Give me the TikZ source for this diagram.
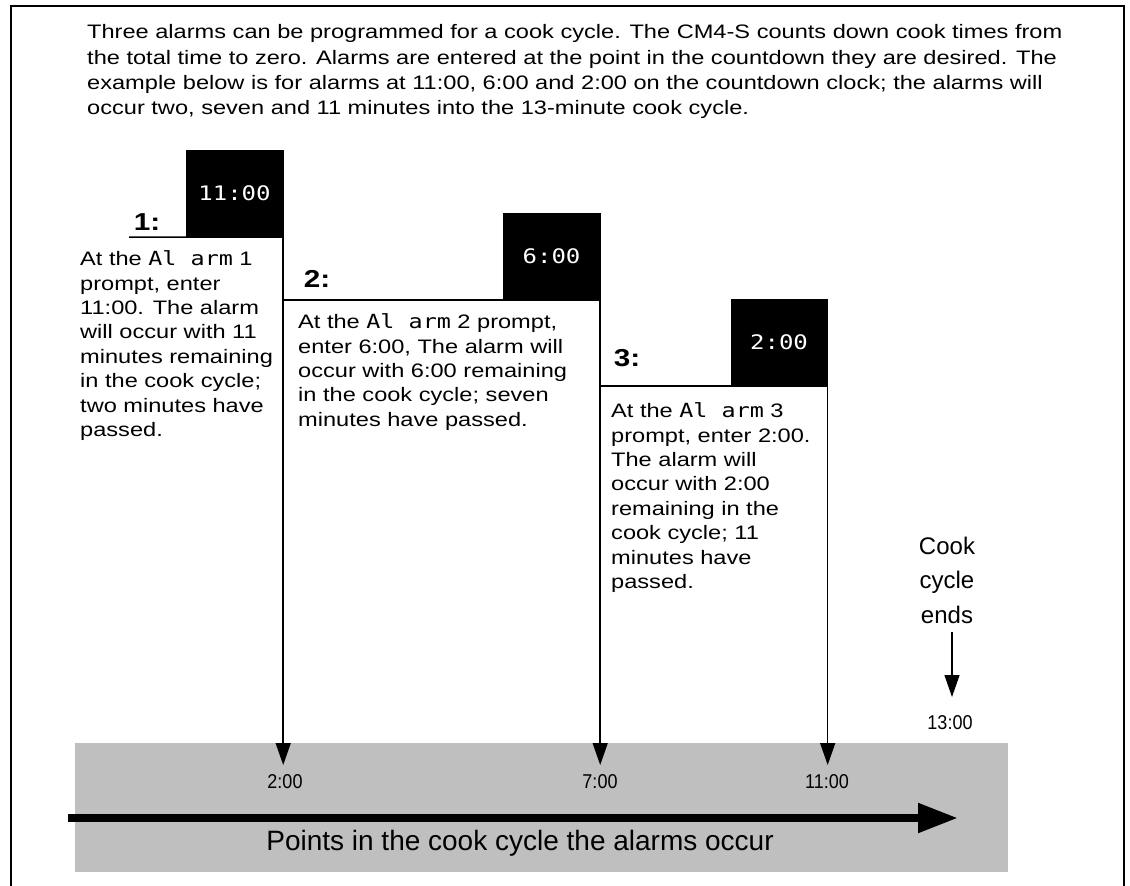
\documentclass[tikz,border=0pt]{standalone}
\usepackage{fontspec}
\setmainfont{Liberation Sans}[FakeStretch=1.21]
\newfontfamily\plainfont{Liberation Sans}
\newfontfamily\narrowfont{Liberation Sans}[FakeStretch=0.9]
\newfontfamily\lcd{DejaVu Sans Mono}[FakeStretch=1.2]
\newfontfamily\lcdbox{DejaVu Sans Mono}[FakeStretch=1.2]
\usetikzlibrary{arrows.meta}
\begin{document}
\begin{tikzpicture}[x=1pt,y=-1pt,
  body/.style={anchor=north west, inner sep=0pt, align=left, font=\fontsize{19.5}{24.4}\selectfont},
  timebox/.style={fill=black, inner sep=0pt, minimum width=97pt, minimum height=87pt, text=white, font=\lcdbox\fontsize{20}{20}\selectfont},
  stepnum/.style={inner sep=0pt, font=\bfseries\fontsize{24.5}{24.5}\selectfont},
  drop/.style={-{Triangle[length=22pt,width=15pt]}, line width=1.5pt},
  rule/.style={line width=1.5pt},
  tick/.style={inner sep=0pt, font=\narrowfont\fontsize{20}{20}\selectfont}
]
\useasboundingbox (0,0) rectangle (1130,886);
% frame
\draw[line width=2.5pt] (11,886) -- (11,6) -- (1124,6) -- (1124,886);
% gray band
\fill[black!25] (75,743) rectangle (1008,872);
% header
\node[body, font=\fontsize{19.5}{25.3}\selectfont] (head) at (87,24.5) {Three alarms can be programmed for a cook cycle. The CM4-S counts down cook times from\\
the total time to zero. Alarms are entered at the point in the countdown they are desired. The\\
example below is for alarms at 11:00, 6:00 and 2:00 on the countdown clock; the alarms will\\
occur two, seven and 11 minutes into the 13-minute cook cycle.};
% time boxes
\node[timebox] (b1) at (234.5,193.5) {11:00};
\node[timebox] (b2) at (551.5,256.5) {6:00};
\node[timebox] (b3) at (779,342.5) {2:00};
% step numbers
\node[stepnum] (n1) at (147,222) {1:};
\node[stepnum] (n2) at (317,279) {2:};
\node[stepnum] (n3) at (627,358) {3:};
% rules
\coordinate (r1) at (129,237);
\coordinate (r2) at (b1.south east |- b2.south);
\coordinate (r3) at (b2.south east |- b3.south);
\draw[rule] (r1) -- (b1.south east);
\draw[rule] (r2) -- (b2.south east);
\draw[rule] (r3) -- (b3.south east);
% tick labels
\node[tick] (t1) at (285,782) {2:00};
\node[tick] (t2) at (600,782) {7:00};
\node[tick] (t3) at (827,782) {11:00};
\node[tick] (t4) at (950,723) {13:00};
% drop arrows
\coordinate (e1) at (b1.north east |- 0,765);
\coordinate (e2) at (b2.north east |- 0,765);
\coordinate (e3) at (b3.north east |- 0,765);
\draw[drop] (b1.north east) -- (e1);
\draw[drop] (b2.north east) -- (e2);
\draw[drop] (b3.north east) -- (e3);
% body texts
\node[body] (x1) at (80,250.5) {At the {\lcd Al arm} 1\\prompt, enter\\11:00. The alarm\\will occur with 11\\minutes remaining\\in the cook cycle;\\two minutes have\\passed.};
\node[body] (x2) at (298,313.5) {At the {\lcd Al arm} 2 prompt,\\enter 6:00, The alarm will\\occur with 6:00 remaining\\in the cook cycle; seven\\minutes have passed.};
\node[body] (x3) at (611,402.5) {At the {\lcd Al arm} 3\\prompt, enter 2:00.\\The alarm will\\occur with 2:00\\remaining in the\\cook cycle; 11\\minutes have\\passed.};
% cook cycle ends
\node[inner sep=0pt, align=center, font=\plainfont\fontsize{24}{34.5}\selectfont] (ends) at (947,580) {Cook\\cycle\\ends};
\coordinate (endtop) at (952,632);
\coordinate (endtip) at (952,697);
\draw[-{Triangle[length=22pt,width=15pt]}, line width=1.2pt] (endtop) -- (endtip);
% timeline arrow
\node[inner sep=0pt, font=\plainfont\fontsize{28}{28}\selectfont] (pts) at (520,843) {Points in the cook cycle the alarms occur};
\coordinate (ta) at (68,818);
\coordinate (tb) at (958,818);
\draw[line width=8pt, -{Triangle[length=40pt,width=28pt]}] (ta) -- (tb);
\end{tikzpicture}
\end{document}
